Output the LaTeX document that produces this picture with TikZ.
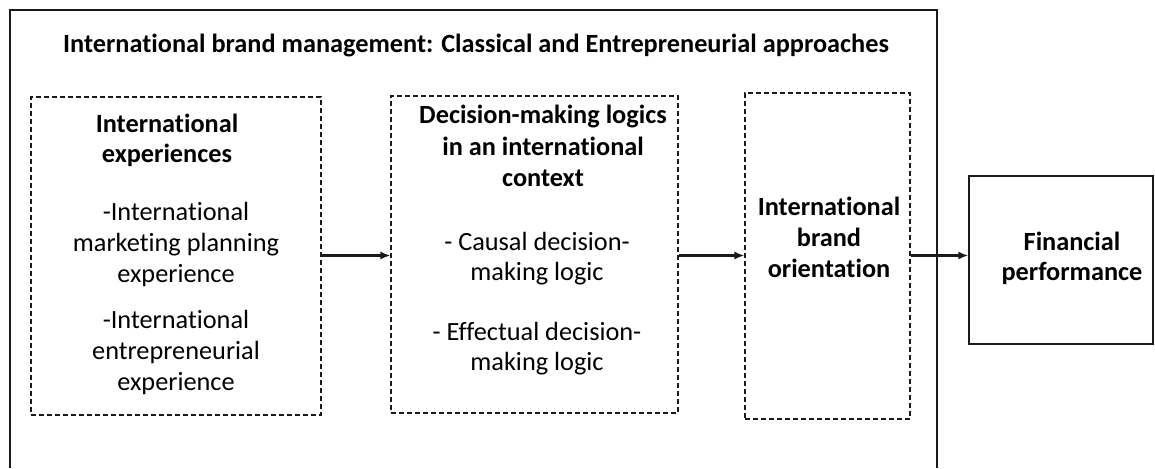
\documentclass[tikz,border=0pt]{standalone}
\usepackage{fontspec}
\setmainfont{Carlito}[Ligatures=NoCommon]
\usetikzlibrary{arrows.meta}
\definecolor{ink}{HTML}{1A1A1A}
\tikzset{
  dashbox/.style={draw=ink, dash pattern=on 5pt off 3pt, line width=1.1pt, inner sep=0pt},
  solidbox/.style={draw=ink, line width=1.3pt, inner sep=0pt},
  frame/.style={draw=ink, line width=1.4pt},
  txt/.style={anchor=base, inner sep=0pt, font=\fontsize{26.3}{31}\selectfont, text=black},
  hdr/.style={txt, font=\fontsize{26.3}{31}\selectfont\bfseries},
  link/.style={draw=ink, line width=2.2pt, -{Latex[length=10pt,width=8pt]}},
}
\begin{document}
\begin{tikzpicture}[x=1pt,y=-1pt]
\useasboundingbox (0,0) rectangle (1155,468);
\fill[white] (0,0) rectangle (1155,468);

% outer frame, open at the bottom of the page
\draw[frame] (10,468) -- (10,10) -- (937,10) -- (937,468);
\node[hdr] (title) at (476,53) {International brand management: Classical and Entrepreneurial approaches};

% stage boxes
\node[dashbox, minimum width=290pt, minimum height=318pt] (b1) at (176,256) {};
\node[dashbox, minimum width=287pt, minimum height=317pt] (b2) at (534.5,254.5) {};
\node[dashbox, minimum width=165pt, minimum height=326pt] (b3) at (827.5,256) {};
\node[solidbox, minimum width=184pt, minimum height=168pt] (b4) at (1061,260) {};

% box 1
\node[hdr] (h1a) at (167,132) {International};
\node[hdr] (h1b) at (167,162) {experiences};
\node[txt] (l1a) at (176,220) {-International};
\node[txt] (l1b) at (176,251) {marketing planning};
\node[txt] (l1c) at (176,282) {experience};
\node[txt] (l1d) at (176,328) {-International};
\node[txt] (l1e) at (176,359) {entrepreneurial};
\node[txt] (l1f) at (176,390) {experience};

% box 2
\node[hdr] (h2a) at (543,123) {Decision-making logics};
\node[hdr] (h2b) at (543,155) {in an international};
\node[hdr] (h2c) at (543,186) {context};
\node[txt] (l2a) at (537,250) {- Causal decision-};
\node[txt] (l2b) at (537,280) {making logic};
\node[txt] (l2c) at (537,340) {- Effectual decision-};
\node[txt] (l2d) at (537,370) {making logic};

% box 3
\node[hdr] (h3a) at (829,215) {International};
\node[hdr] (h3b) at (829,246) {brand};
\node[hdr] (h3c) at (829,277) {orientation};

% box 4
\node[hdr] (h4a) at (1072,250) {Financial};
\node[hdr] (h4b) at (1072,280) {performance};

% connectors
\coordinate (mid) at (0,255.5);
\draw[link] (b1.east |- mid) -- (b2.west |- mid);
\draw[link] (b2.east |- mid) -- (b3.west |- mid);
\draw[link] (b3.east |- mid) -- (b4.west |- mid);
\end{tikzpicture}
\end{document}
